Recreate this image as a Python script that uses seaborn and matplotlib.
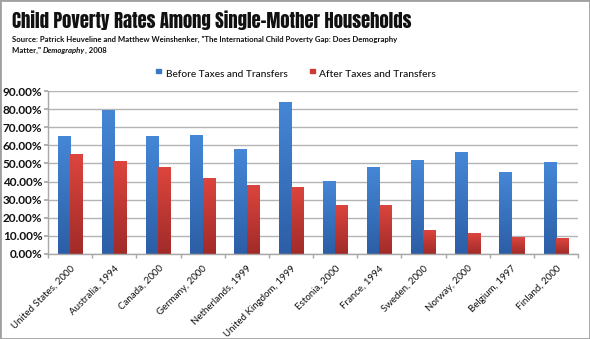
import matplotlib
matplotlib.use("Agg")
import matplotlib.pyplot as plt
import seaborn as sns
import pandas as pd
import numpy as np
from matplotlib.ticker import FuncFormatter, MultipleLocator
from matplotlib.patches import Rectangle
from matplotlib.colors import LinearSegmentedColormap
import warnings
warnings.filterwarnings("ignore")

categories = ["United States, 2000", "Australia, 1994", "Canada, 2000", "Germany, 2000",
              "Netherlands, 1999", "United Kingdom, 1999", "Estonia, 2000", "France, 1994",
              "Sweden, 2000", "Norway, 2000", "Belgium, 1997", "Finland, 2000"]
before = [65.2, 79.5, 65.2, 65.5, 58.0, 84.1, 40.5, 48.2, 51.7, 56.1, 45.1, 50.6]
after = [55.2, 51.5, 48.0, 41.8, 38.1, 37.2, 27.1, 27.1, 13.3, 11.4, 9.2, 8.7]
series = ["Before Taxes and Transfers", "After Taxes and Transfers"]

df = pd.DataFrame({
    "country": categories * 2,
    "value": before + after,
    "series": [series[0]] * len(categories) + [series[1]] * len(categories),
})

sns.set_theme(style="white")
BODY = ["Lato", "Open Sans", "DejaVu Sans"]
plt.rcParams["font.family"] = BODY

W, H = 590, 339
fig = plt.figure(figsize=(W / 100, H / 100), dpi=100)
ax = fig.add_axes([48 / W, 1 - 254 / H, (578 - 48) / W, (254 - 91) / H])

palette = {series[0]: "#3977c8", series[1]: "#cc3a35"}
grads = {series[0]: ("#4587d6", "#2c5ea6"), series[1]: ("#dc453d", "#a12b29")}
sns.barplot(data=df, x="country", y="value", hue="series", palette=palette,
            width=0.56, ax=ax, saturation=1, legend=False, edgecolor="none")

ax.set_ylim(0, 90)
ax.set_xlim(-0.5, len(categories) - 0.5)

# vertical gradient fill on each bar
n = len(categories)
for i, patch in enumerate(ax.patches[: 2 * n]):
    name = series[0] if i < n else series[1]
    top, bot = grads[name]
    cmap = LinearSegmentedColormap.from_list("g", [bot, top])
    x0, y0 = patch.get_x(), patch.get_y()
    w, h = patch.get_width(), patch.get_height()
    grad = np.linspace(0, 1, 64).reshape(-1, 1)
    im = ax.imshow(grad, cmap=cmap, aspect="auto", origin="lower",
                   extent=[x0, x0 + w, y0, y0 + h], zorder=patch.get_zorder() + 0.1)
    im.set_clip_path(patch)
ax.set_xlim(-0.5, len(categories) - 0.5)
ax.set_ylim(0, 90)
ax.set_aspect("auto")

ax.yaxis.set_major_locator(MultipleLocator(10))
ax.yaxis.set_major_formatter(FuncFormatter(lambda v, p: f"{v:.2f}%"))
ax.grid(axis="y", color="#b4b4b4", linewidth=1)
ax.set_axisbelow(True)
ax.set_xlabel("")
ax.set_ylabel("")
for s in ["top", "right"]:
    ax.spines[s].set_visible(False)
for s in ["left", "bottom"]:
    ax.spines[s].set_color("#a8a8a8")
    ax.spines[s].set_linewidth(1)
ax.tick_params(axis="y", labelsize=8.5, length=3, color="#a8a8a8", pad=1, left=True)
ax.set_xticks(range(len(categories)))
ax.set_xticklabels(categories, rotation=45, ha="right", rotation_mode="anchor", fontsize=7.0)
ax.tick_params(axis="x", length=0, pad=7)
for lbl in ax.get_xticklabels():
    lbl.set_color("#111111")
for lbl in ax.get_yticklabels():
    lbl.set_fontweight("bold")
    lbl.set_color("#111111")
ax.set_xticks(np.arange(-0.5, len(categories), 1), minor=True)
ax.tick_params(axis="x", which="minor", length=3, color="#a8a8a8", bottom=True)

fig.canvas.draw()
r = fig.canvas.get_renderer()

def fit(t, target_w):
    bb = t.get_window_extent(r)
    t.set_fontsize(t.get_fontsize() * target_w / bb.width)

# legend
for name, xpos, tx, tw in zip(series, [156, 310], [166, 319], [123, 117]):
    fig.patches.append(Rectangle((xpos / W, 1 - 73 / H), 4.5 / W, 4.5 / H,
                                 transform=fig.transFigure, color=palette[name]))
    lt = fig.text(tx / W, 1 - 77 / H, name, fontsize=8, va="baseline", ha="left",
                  fontweight="medium", color="#111111")
    fit(lt, tw)

# title
TITLE = ["Anton", "Oswald", "Roboto Condensed", "Archivo Narrow", "DejaVu Sans"]
tt = fig.text(12 / W, 1 - 28 / H, "Child Poverty Rates Among Single-Mother Households",
              fontsize=16, family=TITLE, ha="left", va="baseline", color="#111111")
fit(tt, 400)

# source with italic piece
t1 = fig.text(12 / W, 1 - 42 / H,
              "Source: Patrick Heuveline and Matthew Weinshenker, \"The International Child Poverty Gap: Does Demography",
              fontsize=7, fontweight="bold", ha="left", va="baseline", color="#111111")
fit(t1, 386)
fs = t1.get_fontsize()
y2 = 1 - 53 / H
t2 = fig.text(12 / W, y2, "Matter,\" ", fontsize=fs, fontweight="bold", ha="left",
              va="baseline", color="#111111")
bb = t2.get_window_extent(r)
t3 = fig.text(bb.x1 / W, y2, "Demography", fontsize=fs, fontweight="bold",
              style="italic", ha="left", va="baseline", color="#111111")
bb = t3.get_window_extent(r)
fig.text(bb.x1 / W, y2, ", 2008", fontsize=fs, fontweight="bold", ha="left",
         va="baseline", color="#111111")

# border
fig.patches.append(Rectangle((0, 0), 1, 1, transform=fig.transFigure, fill=False,
                             edgecolor="#a0a0a0", linewidth=2))

fig.savefig("out.png", dpi=100)
